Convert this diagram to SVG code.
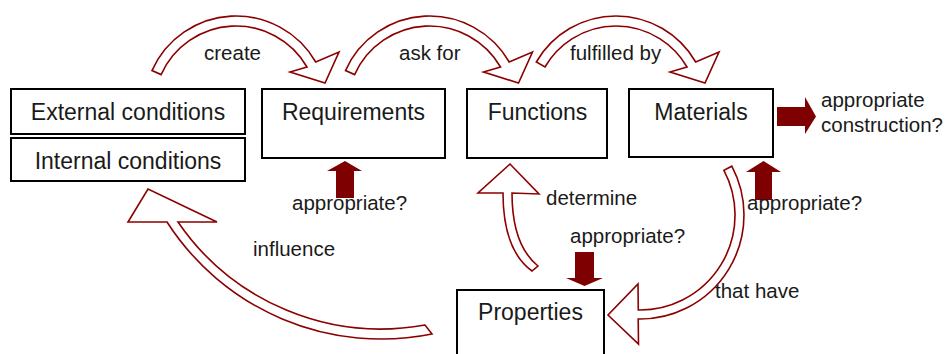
<svg xmlns="http://www.w3.org/2000/svg" width="946" height="354" viewBox="0 0 946 354">
  <style>
    .box { fill: #ffffff; stroke: #000000; stroke-width: 2; }
    .lbl { font-family: "Liberation Sans", Arial, sans-serif; font-size: 23px; fill: #1a1a1a; text-anchor: middle; }
    .note { font-family: "Liberation Sans", Arial, sans-serif; font-size: 20.5px; fill: #1a1a1a; }
    .hollow { fill: #ffffff; stroke: #8b0000; stroke-width: 1.6; stroke-linejoin: miter; }
    .solid { fill: #7f0000; stroke: none; }
  </style>

  <!-- curved block arrows between the concepts -->
  <g id="connectors">
    <!-- create: external conditions -> requirements -->
    <path class="hollow" d="M 152 70.6 A 92 92 0 0 1 315.7 62 L 339 52 L 325 83 L 290 72 L 307 67 A 82 82 0 0 0 161.1 74.6 Z"/>
    <!-- ask for: requirements -> functions -->
    <path class="hollow" d="M 345.5 70.6 A 92 92 0 0 1 509.2 62 L 532.5 52 L 518.5 83 L 483.5 72 L 500.5 67 A 82 82 0 0 0 354.6 74.6 Z"/>
    <!-- fulfilled by: functions -> materials -->
    <path class="hollow" d="M 536.3 62 A 92 92 0 0 1 695.7 62 L 719 52 L 705 83 L 670 72 L 687 67 A 82 82 0 0 0 545 67 Z"/>
    <!-- determine: properties -> functions -->
    <path class="hollow" d="M 532 271 Q 503 250 503 193 L 478 193 L 510 164 L 539 194 L 512 193 Q 512 245 538 266 Z"/>
    <!-- that have: materials -> properties -->
    <path class="hollow" d="M 731.8 166.2 A 104 104 0 0 1 638.2 319 L 638.5 344 L 608 315 L 638 284 L 638.3 310 A 95 95 0 0 0 723.9 170.4 Z"/>
    <!-- influence: properties -> internal conditions -->
    <path class="hollow" d="M 432 334 A 255 255 0 0 1 167 222 L 128 222 L 148 189 L 217 222 L 178 222 A 246 246 0 0 0 425 325 Z"/>

    <!-- solid check arrows -->
    <path class="solid" d="M 336 198 L 336 171 L 327 171 L 345 161 L 362 171 L 354 171 L 354 198 Z"/>
    <path class="solid" d="M 755 200 L 755 172 L 746 172 L 763.5 161 L 781 172 L 772 172 L 772 200 Z"/>
    <path class="solid" d="M 777 107 L 805 107 L 805 97 L 816 116.5 L 805 134 L 805 126 L 777 126 Z"/>
    <path class="solid" d="M 575 252 L 594 252 L 594 278 L 603 278 L 584.5 286 L 566 278 L 575 278 Z"/>
  </g>

  <g id="external-conditions">
    <rect class="box" x="11" y="89" width="234" height="45"/>
    <text class="lbl" x="128" y="120">External conditions</text>
  </g>
  <g id="internal-conditions">
    <rect class="box" x="11" y="138" width="234" height="43"/>
    <text class="lbl" x="128" y="169">Internal conditions</text>
  </g>
  <g id="requirements">
    <rect class="box" x="262" y="89" width="183" height="69"/>
    <text class="lbl" x="353.5" y="120">Requirements</text>
  </g>
  <g id="functions">
    <rect class="box" x="467" y="89" width="140" height="69"/>
    <text class="lbl" x="537.5" y="120">Functions</text>
  </g>
  <g id="materials">
    <rect class="box" x="629" y="89" width="144" height="68"/>
    <text class="lbl" x="701" y="120">Materials</text>
  </g>
  <g id="properties">
    <rect class="box" x="457" y="290" width="147" height="80"/>
    <text class="lbl" x="530.5" y="320">Properties</text>
  </g>

  <!-- connector labels -->
  <g id="labels">
    <text class="note" x="204" y="60">create</text>
    <text class="note" x="399" y="60">ask for</text>
    <text class="note" x="570" y="60">fulfilled by</text>
    <text class="note" x="292" y="210">appropriate?</text>
    <text class="note" x="821" y="107">appropriate</text>
    <text class="note" x="821" y="132">construction?</text>
    <text class="note" x="747" y="210">appropriate?</text>
    <text class="note" x="253" y="256">influence</text>
    <text class="note" x="546" y="205">determine</text>
    <text class="note" x="570" y="243">appropriate?</text>
    <text class="note" x="715" y="298">that have</text>
  </g>
</svg>
